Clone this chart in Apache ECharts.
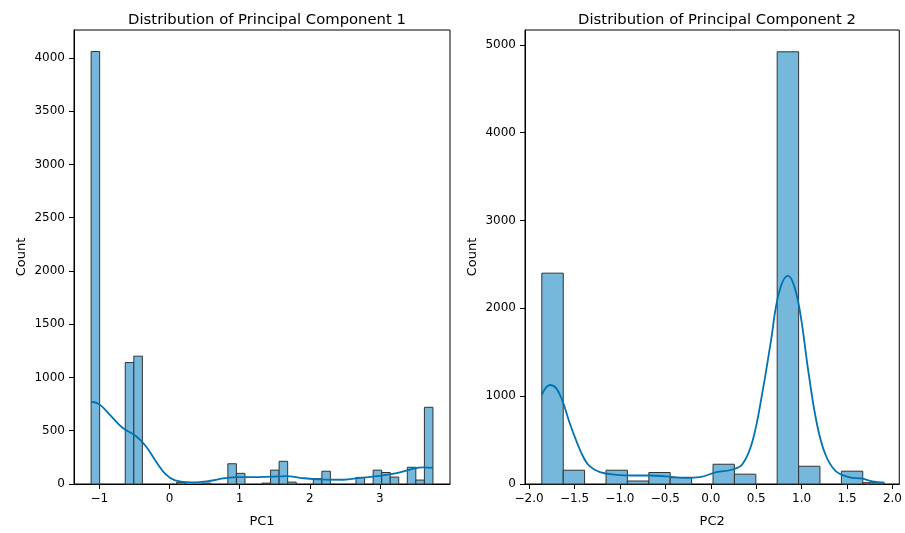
<!DOCTYPE html>
<html>
<head>
<meta charset="utf-8">
<script src="https://cdn.jsdelivr.net/npm/echarts@6/dist/echarts.min.js"></script>
<style>html,body{margin:0;padding:0;background:#fff}#c{width:905px;height:533px}</style>
</head>
<body>
<div id="c"></div>
<script>
// ---- PC1 histogram (40 bins) ----
var pc1Edges = [-1.118,-0.996,-0.874,-0.752,-0.631,-0.509,-0.387,-0.265,-0.143,-0.021,
  0.101,0.223,0.345,0.466,0.588,0.710,0.832,0.954,1.076,1.198,
  1.319,1.441,1.563,1.685,1.807,1.929,2.051,2.173,2.294,2.416,
  2.538,2.660,2.782,2.904,3.026,3.148,3.269,3.391,3.513,3.635,3.757];
var pc1Counts = [4060,0,0,0,1140,1200,0,0,0,0,
  15,0,0,9,0,0,190,100,0,0,
  8,130,213,18,0,0,50,120,0,0,
  0,62,0,130,108,65,0,157,37,720];
var pc1KdeX = [-1.12,-1.09,-0.99,-0.85,-0.67,-0.48,-0.34,-0.2,-0.06,0.08,0.32,0.56,0.79,0.98,1.27,1.67,1.86,2.14,2.48,2.72,3.0,3.24,3.43,3.62,3.757];
var pc1KdeY = [765,770,743,650,528,450,357,219,95,34,16,28,55,65,65,74,58,43,40,58,77,102,136,157,151];
var pc1XTicks = [-1,0,1,2,3];
var pc1YTicks = [0,500,1000,1500,2000,2500,3000,3500,4000];

// ---- PC2 histogram (16 bins) ----
var pc2Edges = [-1.860,-1.624,-1.389,-1.153,-0.918,-0.682,-0.447,-0.211,0.025,0.260,0.496,0.731,0.967,1.202,1.438,1.673,1.909];
var pc2Counts = [2400,157,0,157,34,131,72,0,225,112,0,4920,202,0,146,15];
var pc2KdeX = [-1.86,-1.77,-1.70,-1.63,-1.56,-1.48,-1.41,-1.34,-1.22,-1.04,-0.86,-0.67,-0.49,-0.27,-0.12,0.06,0.24,0.35,0.46,0.57,0.66,0.75,0.85,0.92,0.99,1.08,1.17,1.26,1.37,1.52,1.67,1.78,1.91];
var pc2KdeY = [1014,1127,1089,939,715,490,322,210,135,105,97,97,86,71,79,135,165,228,490,1052,1613,2174,2369,2249,1912,1239,677,341,153,79,60,30,15];
var pc2XTicks = [-2.0,-1.5,-1.0,-0.5,0.0,0.5,1.0,1.5,2.0];
var pc2YTicks = [0,1000,2000,3000,4000,5000];

var FONT = 'DejaVu Sans';
var FILL = '#75b8db', EDGE = '#333333', LINE = '#0173b2';

function binData(edges, counts){
  var out = [];
  for (var i = 0; i < counts.length; i++) {
    if (counts[i] > 0) out.push([edges[i], edges[i+1], counts[i]]);
  }
  return out;
}
function pairs(xs, ys){ return xs.map(function(x,i){ return [x, ys[i]]; }); }
function renderBin(params, api){
  var p0 = api.coord([api.value(0), api.value(2)]);
  var p1 = api.coord([api.value(1), 0]);
  return {type:'rect', shape:{x:p0[0], y:p0[1], width:p1[0]-p0[0], height:p1[1]-p0[1]},
    style:{fill:FILL, stroke:EDGE, lineWidth:1}};
}
function minusFmt(dec){
  return function(v){ var s = dec ? Number(v).toFixed(1) : String(Math.round(v)); return s.replace('-', '\u2212'); };
}
function xAxisCfg(idx, min, max, ticks, dec, name){
  return {type:'value', gridIndex:idx, min:min, max:max, name:name, nameLocation:'middle', nameGap:31,
    nameTextStyle:{fontFamily:FONT, fontSize:13, color:'#000'},
    axisLine:{show:true, onZero:false, lineStyle:{color:'#000', width:1}},
    axisTick:{show:true, length:5, customValues:ticks, lineStyle:{color:'#000'}},
    axisLabel:{customValues:ticks, formatter:minusFmt(dec), fontFamily:FONT, fontSize:12, color:'#000', margin:9},
    splitLine:{show:false}};
}
function yAxisCfg(idx, max, ticks){
  return {type:'value', gridIndex:idx, min:0, max:max, name:'Count', nameLocation:'middle', nameGap:46, nameRotate:90,
    nameTextStyle:{fontFamily:FONT, fontSize:13, color:'#000'},
    axisLine:{show:true, onZero:false, lineStyle:{color:'#000', width:1}},
    axisTick:{show:true, length:5, customValues:ticks, lineStyle:{color:'#000'}},
    axisLabel:{customValues:ticks, formatter:function(v){ return String(Math.round(v)); }, fontFamily:FONT, fontSize:12, color:'#000', margin:9},
    splitLine:{show:false}};
}

var chart = echarts.init(document.getElementById('c'), null, {renderer:'canvas'});
chart.setOption({
  animation:false,
  backgroundColor:'#fff',
  title:[
    {text:'Distribution of Principal Component 1', left:262, top:8, textAlign:'center',
     textStyle:{fontFamily:FONT, fontSize:14.8, fontWeight:'normal', color:'#000'}},
    {text:'Distribution of Principal Component 2', left:712, top:8, textAlign:'center',
     textStyle:{fontFamily:FONT, fontSize:14.8, fontWeight:'normal', color:'#000'}}
  ],
  grid:[
    {left:74, top:30, width:376, height:460, show:true, borderColor:'#000', borderWidth:1, backgroundColor:'transparent'},
    {left:525, top:30, width:375, height:460, show:true, borderColor:'#000', borderWidth:1, backgroundColor:'transparent'}
  ],
  xAxis:[
    xAxisCfg(0, -1.362, 4.0, pc1XTicks, false, 'PC1'),
    xAxisCfg(1, -2.045, 2.075, pc2XTicks, true, 'PC2')
  ],
  yAxis:[
    yAxisCfg(0, 4262, pc1YTicks),
    yAxisCfg(1, 5168, pc2YTicks)
  ],
  series:[
    {type:'custom', xAxisIndex:0, yAxisIndex:0, renderItem:renderBin, encode:{x:[0,1], y:2}, data:binData(pc1Edges, pc1Counts), z:2},
    {type:'line', xAxisIndex:0, yAxisIndex:0, data:pairs(pc1KdeX, pc1KdeY), smooth:0.4, showSymbol:false,
     lineStyle:{color:LINE, width:1.8}, z:3},
    {type:'custom', xAxisIndex:1, yAxisIndex:1, renderItem:renderBin, encode:{x:[0,1], y:2}, data:binData(pc2Edges, pc2Counts), z:2},
    {type:'line', xAxisIndex:1, yAxisIndex:1, data:pairs(pc2KdeX, pc2KdeY), smooth:0.4, showSymbol:false,
     lineStyle:{color:LINE, width:1.8}, z:3}
  ]
});
</script>
</body>
</html>
